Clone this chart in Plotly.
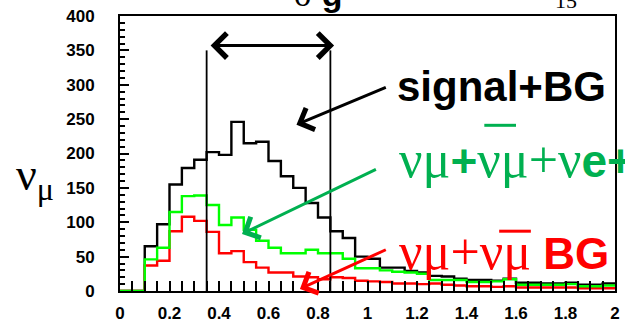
import numpy as np
import plotly.graph_objects as go

# bin starts (width 0.05) from 0 to 2
bin_width = 0.05
bin_starts = [round(i * bin_width, 2) for i in range(40)]

signal_bg = [0, 0, 65, 97, 155, 179, 191, 202, 198, 246,
             215, 217, 189, 167, 150, 128, 107, 87, 77, 50,
             47, 34, 34, 29, 27, 22, 21, 18, 16, 16,
             15, 18, 12, 12, 11, 11, 12, 9, 9, 11]
all_bg = [0, 0, 46, 63, 115, 138, 139, 125, 96, 107,
          89, 73, 63, 55, 55, 60, 55, 55, 47, 33,
          33, 30, 28, 27, 25, 16, 16, 16, 13, 13,
          14, 17, 9, 9, 9, 9, 10, 7, 7, 8]
numu_bg = [0, 0, 37, 44, 87, 108, 102, 86, 55, 58,
           42, 34, 27, 27, 21, 20, 17, 20, 19, 15,
           14, 13, 11, 11, 10, 11, 9, 8, 7, 7,
           6, 7, 5, 5, 5, 5, 5, 4, 4, 4]

cut_low, cut_high, cut_top = 0.35, 0.85, 350

xticks = [0, 0.2, 0.4, 0.6, 0.8, 1, 1.2, 1.4, 1.6, 1.8, 2]
xticklabels = ["0", "0.2", "0.4", "0.6", "0.8", "1", "1.2", "1.4", "1.6", "1.8", "2"]
yticks = [0, 50, 100, 150, 200, 250, 300, 350, 400]


def step(vals):
    xs = bin_starts + [round(bin_starts[-1] + bin_width, 2)]
    ys = list(vals) + [vals[-1]]
    return xs, ys


fig = go.Figure()
for vals, col in [(signal_bg, "black"), (numu_bg, "#ff0000"), (all_bg, "#00ff00")]:
    xs, ys = step(vals)
    fig.add_trace(go.Scatter(x=xs, y=ys, mode="lines", line=dict(color=col, width=2.4, shape="hv"),
                             showlegend=False, hoverinfo="skip"))

# cut lines
for xc in (cut_low, cut_high):
    fig.add_trace(go.Scatter(x=[xc, xc], y=[0, cut_top], mode="lines",
                             line=dict(color="black", width=1.8), showlegend=False, hoverinfo="skip"))

SERIF = "Liberation Serif"
SANS = "Liberation Sans"

ann = []
# double arrow
ann.append(dict(x=0.865, y=357, ax=0.36, ay=357, xref="x", yref="y", axref="x", ayref="y",
                showarrow=True, arrowhead=4, startarrowhead=4, arrowside="end+start",
                arrowwidth=3, arrowsize=1.6, startarrowsize=1.6, arrowcolor="black", text=""))
# pointer arrows
ann.append(dict(x=0.713, y=242, ax=1.08, ay=297, xref="x", yref="y", axref="x", ayref="y",
                showarrow=True, arrowhead=4, arrowwidth=3, arrowsize=1.5, arrowcolor="black", text=""))
ann.append(dict(x=0.493, y=83, ax=1.04, ay=178, xref="x", yref="y", axref="x", ayref="y",
                showarrow=True, arrowhead=4, arrowwidth=3, arrowsize=1.5, arrowcolor="#00b050", text=""))
ann.append(dict(x=0.727, y=3, ax=1.08, ay=61, xref="x", yref="y", axref="x", ayref="y",
                showarrow=True, arrowhead=4, arrowwidth=3, arrowsize=1.5, arrowcolor="#ff0000", text=""))

# labels
ann.append(dict(x=1.11, y=297, xref="x", yref="y", xanchor="left", yanchor="middle", showarrow=False,
                text="<b>signal+BG</b>", font=dict(family=SANS, size=42, color="black")))

sp = lambda t, s=52: f'<span style="font-family:{SERIF};font-size:{s}px">{t}</span>'
green_text = (sp("νμ") + "<b>+</b>" + sp("νμ") + sp("+") + sp("ν") + "<b>e+</b>")
ann.append(dict(x=1.12, y=191, xref="x", yref="y", xanchor="left", yanchor="middle", showarrow=False,
                text=green_text, font=dict(family=SANS, size=46, color="#00b050")))
red_text = sp("νμ+νμ") + " <b>BG</b>"
ann.append(dict(x=1.12, y=57, xref="x", yref="y", xanchor="left", yanchor="middle", showarrow=False,
                text=red_text, font=dict(family=SANS, size=44, color="#ff0000")))

# y-axis label
ann.append(dict(x=-0.172, y=0.41, xref="paper", yref="paper", xanchor="center", yanchor="middle",
                showarrow=False, text="ν<sub>μ</sub>", font=dict(family=SERIF, size=46, color="black")))

# cut-off title fragments at the top
ann.append(dict(x=0.40, y=1.005, xref="paper", yref="paper", xanchor="center", yanchor="bottom",
                showarrow=False, text=sp("σ", 34) + " <b>g</b>", font=dict(family=SANS, size=34, color="black")))
ann.append(dict(x=0.90, y=1.005, xref="paper", yref="paper", xanchor="center", yanchor="bottom",
                showarrow=False, text="15", font=dict(family=SERIF, size=22, color="black")))

# overlines (anti-particle bars)
shapes = [
    dict(type="line", xref="x", yref="y", x0=1.472, x1=1.60, y0=241, y1=241,
         line=dict(color="#00b050", width=3)),
    dict(type="line", xref="x", yref="y", x0=1.532, x1=1.66, y0=87, y1=87,
         line=dict(color="#ff0000", width=3)),
]

fig.update_layout(
    width=625, height=328,
    margin=dict(l=120, r=5, t=16, b=36),
    plot_bgcolor="white", paper_bgcolor="white",
    annotations=ann, shapes=shapes,
    xaxis=dict(range=[0, 2], tickvals=xticks, ticktext=xticklabels, ticks="inside", ticklen=10,
               tickwidth=1.5, tickcolor="black",
               minor=dict(dtick=0.05, ticks="inside", ticklen=10, tickwidth=1.5, tickcolor="black"),
               showgrid=False, zeroline=False, showline=True, linecolor="black", linewidth=2, mirror=True,
               tickfont=dict(family=SANS, size=17, color="black", weight="bold"), ticklabelstandoff=6),
    yaxis=dict(range=[0, 400], tickvals=yticks, ticks="inside", ticklen=9, tickwidth=1.5, tickcolor="black",
               minor=dict(dtick=10, ticks="inside", ticklen=5, tickwidth=1.5, tickcolor="black"),
               showgrid=False, zeroline=False, showline=True, linecolor="black", linewidth=2, mirror=True,
               tickfont=dict(family=SANS, size=17, color="black", weight="bold"), ticklabelstandoff=20),
    font=dict(family=SANS, color="black"),
)

fig.write_html("out.html")
